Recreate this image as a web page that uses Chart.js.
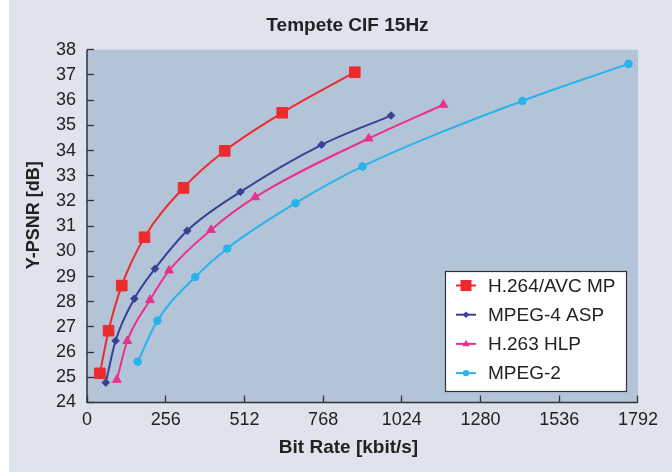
<!DOCTYPE html>
<html><head><meta charset="utf-8">
<script src="https://cdn.jsdelivr.net/npm/chart.js@4.4.1/dist/chart.umd.min.js"></script>
<style>html,body{margin:0;padding:0;background:#fff;}#wrap{width:672px;height:472px;}</style>
</head><body><div id="wrap"><canvas id="c" width="672" height="472"></canvas></div>
<script>
// ---- data ----
const seriesNames = ['H.264/AVC MP', 'MPEG-4 ASP', 'H.263 HLP', 'MPEG-2'];
const h264Rate  = [42, 70, 113, 187, 314, 448, 635, 871];
const h264Psnr  = [25.16, 26.85, 28.64, 30.56, 32.52, 33.99, 35.50, 37.11];
const mpeg4Rate = [61, 93, 154, 221, 326, 499, 763, 989];
const mpeg4Psnr = [24.79, 26.45, 28.12, 29.31, 30.82, 32.36, 34.23, 35.39];
const h263Rate  = [97, 131, 205, 267, 403, 547, 916, 1159];
const h263Psnr  = [24.90, 26.44, 28.07, 29.24, 30.85, 32.15, 34.48, 35.82];
const mpeg2Rate = [165, 229, 352, 456, 678, 896, 1416, 1761];
const mpeg2Psnr = [25.62, 27.25, 28.98, 30.11, 31.91, 33.37, 35.97, 37.44];
const xTickValues = [0, 256, 512, 768, 1024, 1280, 1536, 1792];
const yTickValues = [24, 25, 26, 27, 28, 29, 30, 31, 32, 33, 34, 35, 36, 37, 38];
const chartTitle = 'Tempete CIF 15Hz';
const xTitle = 'Bit Rate [kbit/s]';
const yTitle = 'Y-PSNR [dB]';

// ---- styling ----
const FONT = '"Liberation Sans", Arial, Helvetica, sans-serif';
Chart.defaults.font.family = FONT;
Chart.defaults.color = '#222';
const colors = ['#ec2b2e', '#3a3f97', '#e9318d', '#27b3eb'];
const pStyles = ['rect', 'rectRot', 'triangle', 'circle'];
const pRadii = [7.5, 3.8, 5, 3.8];
const legendRadii = [5.5, 3.2, 4, 3.2];

function pts(xs, ys) { return xs.map((x, i) => ({x: x, y: ys[i]})); }
const rates = [h264Rate, mpeg4Rate, h263Rate, mpeg2Rate];
const psnrs = [h264Psnr, mpeg4Psnr, h263Psnr, mpeg2Psnr];

const datasets = seriesNames.map((name, i) => ({
  label: name,
  data: pts(rates[i], psnrs[i]),
  borderColor: colors[i],
  backgroundColor: colors[i],
  pointBackgroundColor: colors[i],
  pointBorderColor: colors[i],
  pointStyle: pStyles[i],
  pointRadius: pRadii[i],
  pointBorderWidth: 1,
  borderWidth: 2,
  cubicInterpolationMode: 'monotone',
  fill: false
}));

function marker(c, style, x, y, r, color) {
  c.fillStyle = color; c.strokeStyle = color;
  c.beginPath();
  if (style === 'rect') { const s = r; c.rect(x - s, y - s, 2 * s, 2 * s); }
  else if (style === 'rectRot') { c.moveTo(x, y - r); c.lineTo(x + r, y); c.lineTo(x, y + r); c.lineTo(x - r, y); c.closePath(); }
  else if (style === 'triangle') { c.moveTo(x, y - r); c.lineTo(x + r * 0.95, y + r * 0.6); c.lineTo(x - r * 0.95, y + r * 0.6); c.closePath(); }
  else { c.arc(x, y, r, 0, Math.PI * 2); }
  c.fill();
}

const decor = {
  id: 'decor',
  afterLayout(chart) {
    const ca = chart.chartArea;
    if (chart.titleBlock) { chart.titleBlock.left = ca.left - 30; chart.titleBlock.right = ca.right; }
    chart.scales.y.top = ca.top - 22;
    chart.scales.x.left = ca.left - 28;
  },
  beforeDraw(chart) {
    const c = chart.ctx, ca = chart.chartArea;
    c.save();
    c.fillStyle = '#ffffff'; c.fillRect(0, 0, chart.width, chart.height);
    c.fillStyle = '#dee3ee'; c.fillRect(9, 0, chart.width - 9, chart.height);
    c.fillStyle = '#b4c4d8'; c.fillRect(ca.left, ca.top, ca.right - ca.left, ca.bottom - ca.top);
    c.restore();
  },
  beforeDatasetsDraw(chart) {
    const c = chart.ctx, ca = chart.chartArea;
    c.save();
    c.strokeStyle = '#333'; c.lineWidth = 1.5;
    c.beginPath();
    c.moveTo(ca.left, ca.top); c.lineTo(ca.left, ca.bottom); c.lineTo(ca.right, ca.bottom);
    c.stroke();
    c.restore();
  },
  afterDatasetsDraw(chart) {
    const c = chart.ctx, ca = chart.chartArea;
    const bx = Math.round(ca.right - 193), by = Math.round(ca.bottom - 131.5), bw = 181, bh = 120;
    c.save();
    c.fillStyle = '#ffffff'; c.fillRect(bx, by, bw, bh);
    c.strokeStyle = '#333'; c.lineWidth = 1.2; c.strokeRect(bx + 0.5, by + 0.5, bw, bh);
    c.font = '19px ' + FONT; c.textBaseline = 'middle'; c.textAlign = 'left';
    chart.data.datasets.forEach((ds, i) => {
      const y = by + 14.5 + i * 29.2;
      c.strokeStyle = ds.borderColor; c.lineWidth = 2;
      c.beginPath(); c.moveTo(bx + 11, y); c.lineTo(bx + 31, y); c.stroke();
      marker(c, ds.pointStyle, bx + 21, y, legendRadii[i], ds.borderColor);
      c.fillStyle = '#222';
      c.fillText(ds.label, bx + 43, y + 1);
    });
    c.restore();
  }
};

new Chart(document.getElementById('c'), {
  type: 'line',
  data: { datasets: datasets },
  options: {
    responsive: false, animation: false, devicePixelRatio: 1,
    layout: { padding: { left: 0, right: 25, top: 0, bottom: 0 } },
    plugins: {
      legend: { display: false },
      tooltip: { enabled: false },
      title: { display: true, text: chartTitle, color: '#222', font: { size: 19, weight: 'bold' }, padding: { top: 14, bottom: 13 } }
    },
    scales: {
      x: {
        type: 'linear', min: 0, max: 1792,
        afterBuildTicks: s => { s.ticks = xTickValues.map(v => ({ value: v })); },
        afterFit: s => { s.height = 69.5; },
        border: { display: false },
        grid: { display: true, drawOnChartArea: false, drawTicks: true, tickLength: -7, color: '#333', tickColor: '#333', tickWidth: 1.3 },
        ticks: { padding: 14, autoSkip: false, maxRotation: 0, color: '#222', font: { size: 18 }, callback: v => String(v) },
        title: { display: true, text: xTitle, color: '#222', font: { size: 19, weight: 'bold' }, padding: { top: 0, bottom: 12.6 } }
      },
      y: {
        type: 'linear', min: 24, max: 38,
        afterBuildTicks: s => { s.ticks = yTickValues.map(v => ({ value: v })); },
        afterFit: s => { s.width = 87; },
        border: { display: false },
        grid: { display: true, drawOnChartArea: false, drawTicks: true, tickLength: -7, color: '#333', tickColor: '#333', tickWidth: 1.3 },
        ticks: { padding: 18, autoSkip: false, color: '#222', font: { size: 18 }, callback: v => String(v) },
        title: { display: true, text: yTitle, color: '#222', font: { size: 18, weight: 'bold' }, padding: { top: 23, bottom: 0 } }
      }
    }
  },
  plugins: [decor]
});
</script>
</body></html>
